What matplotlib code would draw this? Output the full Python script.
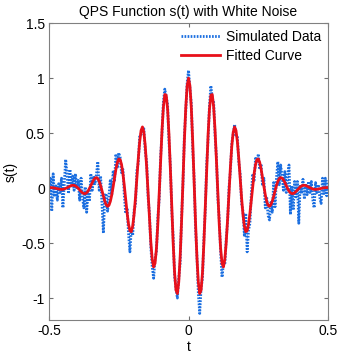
import numpy as np
import matplotlib
matplotlib.use('Agg')
import matplotlib.pyplot as plt

plt.rcParams['font.family'] = ['Liberation Sans', 'DejaVu Sans']

# --- Time axis (201 samples, step 0.005) ---
t = np.round(np.arange(-0.5, 0.5001, 0.005), 3)

# --- Simulated data ---
data = [
    -0.05, 0.09, -0.21, 0.13, -0.08, 0.02, -0.11, 0.04, -0.04, 0.09,
    -0.18, 0.05, 0.26, 0.12, -0.05, 0.17, 0.02, 0.11, -0.02, 0.13,
    -0.01, 0.07, -0.11, 0.09, -0.08, -0.18, 0.01, -0.22, -0.05, -0.12,
    0.13, -0.02, 0.11, 0.04, 0.12, 0.24, -0.02, 0.11, -0.14, -0.41,
    -0.07, -0.05, -0.21, -0.07, 0.08, -0.06, 0.16, 0.07, 0.31, 0.18,
    0.32, 0.28, 0.14, 0.17, -0.07, -0.23, -0.18, -0.41, -0.58, -0.37,
    -0.43, -0.20, -0.15, 0.16, 0.23, 0.48, 0.49, 0.51, 0.54, 0.33,
    0.24, -0.08, -0.23, -0.54, -0.72, -0.82, -0.64, -0.58, -0.27, -0.10,
    0.29, 0.50, 0.79, 0.90, 0.83, 0.76, 0.42, 0.20, -0.21, -0.45,
    -0.80, -0.91, -1.00, -0.82, -0.68, -0.27, 0.03, 0.47, 0.69, 0.96,
    1.07,
    0.91, 0.77, 0.36, 0.09, -0.36, -0.61, -0.95, -1.14, -0.91, -0.82,
    -0.46, -0.20, 0.22, 0.44, 0.75, 0.93, 0.82, 0.78, 0.48, 0.28,
    -0.09, -0.28, -0.58, -0.81, -0.69, -0.70, -0.46, -0.31, 0.01, 0.15,
    0.41, 0.49, 0.58, 0.48, 0.47, 0.24, 0.13, -0.14, -0.21, -0.43,
    -0.23, -0.58, -0.38, -0.32, -0.05, 0.13, 0.07, 0.27, 0.23, 0.31,
    0.17, 0.22, 0.02, 0.09, -0.18, -0.08, -0.25, -0.29, -0.13, -0.22,
    0.05, -0.17, 0.09, 0.24, 0.03, 0.21, 0.11, -0.02, 0.15, -0.04,
    0.12, 0.21, -0.24, 0.02, -0.20, 0.06, -0.08, 0.06, -0.32, 0.03,
    -0.05, 0.08, -0.10, 0.04, -0.06, 0.06, -0.04, 0.06, -0.10, -0.18,
    0.05, -0.04, 0.03, -0.08, -0.14, 0.09, -0.05, 0.09, -0.07, 0.07,
]

# --- Fitted curve ---
fitted = [
    0.005, 0.005, 0.004, 0.003, 0.000, -0.003, -0.006, -0.009, -0.011, -0.012,
    -0.011, -0.008, -0.003, 0.003, 0.010, 0.017, 0.023, 0.025, 0.025, 0.019,
    0.010, -0.002, -0.017, -0.031, -0.043, -0.050, -0.050, -0.043, -0.027, -0.004,
    0.023, 0.051, 0.075, 0.091, 0.095, 0.086, 0.061, 0.023, -0.024, -0.074,
    -0.119, -0.152, -0.166, -0.156, -0.120, -0.062, 0.013, 0.096, 0.173, 0.233,
    0.265, 0.259, 0.214, 0.132, 0.020, -0.105, -0.228, -0.328, -0.388, -0.396,
    -0.345, -0.239, -0.087, 0.090, 0.269, 0.422, 0.524, 0.556, 0.508, 0.382,
    0.191, -0.040, -0.281, -0.495, -0.649, -0.717, -0.684, -0.550, -0.329, -0.050,
    0.250, 0.526, 0.738, 0.851, 0.845, 0.718, 0.483, 0.171, -0.174, -0.502,
    -0.767, -0.928, -0.959, -0.854, -0.625, -0.305, 0.062, 0.424, 0.727, 0.929,
    1.000,
    0.929, 0.727, 0.424, 0.062, -0.305, -0.625, -0.854, -0.959, -0.928, -0.767,
    -0.502, -0.174, 0.171, 0.483, 0.718, 0.845, 0.851, 0.738, 0.526, 0.250,
    -0.050, -0.329, -0.550, -0.684, -0.717, -0.649, -0.495, -0.281, -0.040, 0.191,
    0.382, 0.508, 0.556, 0.524, 0.422, 0.269, 0.090, -0.087, -0.239, -0.345,
    -0.396, -0.388, -0.328, -0.228, -0.105, 0.020, 0.132, 0.214, 0.259, 0.265,
    0.233, 0.173, 0.096, 0.013, -0.062, -0.120, -0.156, -0.166, -0.152, -0.119,
    -0.074, -0.024, 0.023, 0.061, 0.086, 0.095, 0.091, 0.075, 0.051, 0.023,
    -0.004, -0.027, -0.043, -0.050, -0.050, -0.043, -0.031, -0.017, -0.002, 0.010,
    0.019, 0.025, 0.025, 0.023, 0.017, 0.010, 0.003, -0.003, -0.008, -0.011,
    -0.012, -0.011, -0.009, -0.006, -0.003, 0.000, 0.003, 0.004, 0.005, 0.005,
]

x_ticks = [-0.5, 0, 0.5]
x_tick_labels = ['-0.5', '0', '0.5']
y_ticks = [-1, -0.5, 0, 0.5, 1, 1.5]
y_tick_labels = ['-1', '-0.5', '0', '0.5', '1', '1.5']

# --- Plot ---
fig = plt.figure(figsize=(3.4, 3.56), dpi=100)
ax = fig.add_axes([0.144, 0.101, 0.821, 0.834])

ax.plot(t, data, color='#1a6ee0', linestyle=(0, (0.6, 0.5)), linewidth=2.0,
        label='Simulated Data')
ax.plot(t, fitted, color='#e8101a', linestyle='-', linewidth=2.0, label='Fitted Curve')

ax.set_xlim(-0.5, 0.5)
ax.set_ylim(-1.2, 1.5)
ax.set_xticks(x_ticks)
ax.set_xticklabels(x_tick_labels)
ax.set_yticks(y_ticks)
ax.set_yticklabels(y_tick_labels)
ax.tick_params(direction='in', top=True, right=True, length=3, labelsize=10,
               color='#707070', pad=3)
for sp in ax.spines.values():
    sp.set_color('#808080')
    sp.set_linewidth(0.8)

ax.set_title('QPS Function s(t) with White Noise', fontsize=10, pad=5)
ax.set_xlabel('t', fontsize=10, labelpad=1)
ax.set_ylabel('s(t)', fontsize=10, labelpad=2)

ax.legend(loc='upper right', frameon=False, fontsize=10, handlelength=2.8,
          handletextpad=0.4, borderaxespad=0.1, labelspacing=0.35)

fig.savefig('out.png', dpi=100)
